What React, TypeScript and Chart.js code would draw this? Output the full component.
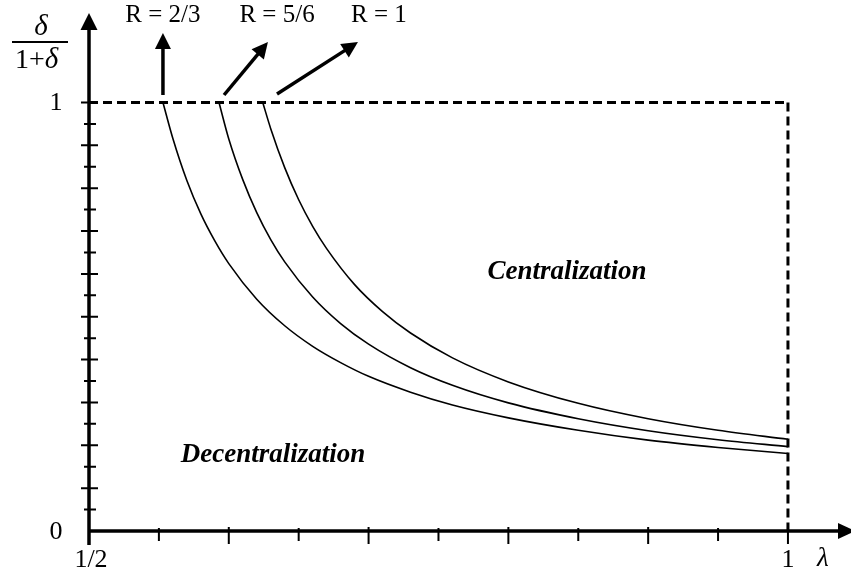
import React, { useEffect, useRef } from "react";
import { Chart, registerables } from "chart.js";

Chart.register(...registerables);

// ---- data ----
const lambdaR23 = [0.5529, 0.56, 0.57, 0.58, 0.59, 0.6, 0.62, 0.64, 0.66, 0.68, 0.7, 0.73, 0.76, 0.8, 0.85, 0.9, 0.95, 1.0];
const shareR23 = [1.0, 0.916, 0.818, 0.74, 0.677, 0.624, 0.541, 0.479, 0.431, 0.393, 0.361, 0.324, 0.294, 0.264, 0.235, 0.212, 0.195, 0.181];

const lambdaR56 = [0.593, 0.6, 0.61, 0.62, 0.63, 0.64, 0.66, 0.68, 0.7, 0.73, 0.76, 0.8, 0.85, 0.9, 0.95, 1.0];
const shareR56 = [1.0, 0.915, 0.82, 0.743, 0.68, 0.628, 0.546, 0.484, 0.436, 0.381, 0.34, 0.299, 0.262, 0.234, 0.213, 0.197];

const lambdaR1 = [0.6243, 0.63, 0.64, 0.65, 0.66, 0.67, 0.69, 0.71, 0.73, 0.76, 0.8, 0.85, 0.9, 0.95, 1.0];
const shareR1 = [1.0, 0.939, 0.848, 0.773, 0.711, 0.659, 0.575, 0.512, 0.462, 0.404, 0.348, 0.298, 0.262, 0.235, 0.214];

const xMinorTicks = [0.55, 0.65, 0.75, 0.85, 0.95];
const xMajorTicks = [0.6, 0.7, 0.8, 0.9, 1.0];
const yMinorTicks = [0.05, 0.15, 0.25, 0.35, 0.45, 0.55, 0.65, 0.75, 0.85, 0.95];
const yMajorTicks = [0.1, 0.2, 0.3, 0.4, 0.5, 0.6, 0.7, 0.8, 0.9, 1.0];

const xTickLabels = ["1/2", "1"];
const xTickLabelValues = [0.5, 1.0];
const yTickLabels = ["0", "1"];
const yTickLabelValues = [0, 1.0];

const curveLabels = ["R = 2/3", "R = 5/6", "R = 1"];
const curveLabelX = [0.5529, 0.6345, 0.7074];
const curveLabelY = 1.203;
const arrowFromX = [0.5529, 0.5966, 0.6345];
const arrowFromY = [1.0175, 1.0175, 1.0198];
const arrowToX = [0.5529, 0.628, 0.6924];
const arrowToY = [1.162, 1.141, 1.141];

const regionLabels = ["Centralization", "Decentralization"];
const regionLabelX = [0.8419, 0.6316];
const regionLabelY = [0.6044, 0.1774];

const X_MIN = 0.5;
const X_MAX = 1.0451;
const Y_MIN = 0;
const Y_MAX = 1.2112;

const SERIF = "'Liberation Serif', 'Times New Roman', serif";

function pts(xs: number[], ys: number[]) {
  return xs.map((x, i) => ({ x, y: ys[i] }));
}

function arrowHead(ctx: CanvasRenderingContext2D, x1: number, y1: number, x2: number, y2: number, len: number, half: number) {
  const a = Math.atan2(y2 - y1, x2 - x1);
  const bx = x2 - len * Math.cos(a);
  const by = y2 - len * Math.sin(a);
  ctx.beginPath();
  ctx.moveTo(x2, y2);
  ctx.lineTo(bx + half * Math.sin(a), by - half * Math.cos(a));
  ctx.lineTo(bx - half * Math.sin(a), by + half * Math.cos(a));
  ctx.closePath();
  ctx.fill();
}

function arrow(ctx: CanvasRenderingContext2D, x1: number, y1: number, x2: number, y2: number, w: number, len: number, half: number) {
  const a = Math.atan2(y2 - y1, x2 - x1);
  ctx.lineWidth = w;
  ctx.beginPath();
  ctx.moveTo(x1, y1);
  ctx.lineTo(x2 - (len - 2) * Math.cos(a), y2 - (len - 2) * Math.sin(a));
  ctx.stroke();
  arrowHead(ctx, x1, y1, x2, y2, len, half);
}

const decorPlugin = {
  id: "decor",
  beforeDatasetsDraw(chart: any) {
    const ctx: CanvasRenderingContext2D = chart.ctx;
    const xs = chart.scales.x;
    const ys = chart.scales.y;
    const px = (v: number) => xs.getPixelForValue(v);
    const py = (v: number) => ys.getPixelForValue(v);
    ctx.save();
    ctx.strokeStyle = "#000";
    ctx.fillStyle = "#000";
    ctx.lineCap = "butt";

    // dashed frame at y = 1 and x = 1
    ctx.setLineDash([9, 5]);
    ctx.lineWidth = 3;
    ctx.beginPath();
    ctx.moveTo(px(X_MIN), py(1));
    ctx.lineTo(px(1), py(1));
    ctx.moveTo(px(1), py(1));
    ctx.lineTo(px(1), py(Y_MIN));
    ctx.stroke();
    ctx.setLineDash([]);

    // x ticks
    ctx.lineWidth = 2;
    ctx.beginPath();
    xMinorTicks.forEach((v) => {
      ctx.moveTo(px(v), py(0) - 3);
      ctx.lineTo(px(v), py(0) + 10);
    });
    xMajorTicks.forEach((v) => {
      ctx.moveTo(px(v), py(0) - 4);
      ctx.lineTo(px(v), py(0) + 13);
    });
    ctx.stroke();

    // y ticks
    ctx.beginPath();
    yMinorTicks.forEach((v) => {
      ctx.moveTo(px(X_MIN) - 5, py(v));
      ctx.lineTo(px(X_MIN) + 7, py(v));
    });
    yMajorTicks.forEach((v) => {
      ctx.moveTo(px(X_MIN) - 8, py(v));
      ctx.lineTo(px(X_MIN) + 9, py(v));
    });
    ctx.stroke();

    // axes
    const ox = px(X_MIN);
    const oy = py(Y_MIN);
    arrow(ctx, ox, oy + 14, ox, py(Y_MAX) + 1, 3.5, 17, 8.5);
    arrow(ctx, ox - 1, oy, px(X_MAX) + 4, oy, 3.5, 17, 8);
    ctx.restore();
  },
  afterDatasetsDraw(chart: any) {
    const ctx: CanvasRenderingContext2D = chart.ctx;
    const xs = chart.scales.x;
    const ys = chart.scales.y;
    const px = (v: number) => xs.getPixelForValue(v);
    const py = (v: number) => ys.getPixelForValue(v);
    ctx.save();
    ctx.fillStyle = "#000";
    ctx.strokeStyle = "#000";
    ctx.textAlign = "center";
    ctx.textBaseline = "middle";

    // tick labels
    ctx.font = `26px ${SERIF}`;
    yTickLabels.forEach((t, i) => {
      ctx.fillText(t, px(X_MIN) - 33, py(yTickLabelValues[i]) + 1);
    });
    xTickLabels.forEach((t, i) => {
      ctx.fillText(t, px(xTickLabelValues[i]) + (i === 0 ? 2 : 0), py(0) + 29);
    });
    ctx.font = `italic 27px ${SERIF}`;
    ctx.fillText("\u03bb", px(1) + 35, py(0) + 28);

    // y-axis title: delta / (1 + delta)
    ctx.font = `italic 29px ${SERIF}`;
    ctx.fillText("\u03b4", 41, 27);
    ctx.lineWidth = 2;
    ctx.beginPath();
    ctx.moveTo(12, 42);
    ctx.lineTo(68, 42);
    ctx.stroke();
    ctx.font = `28px ${SERIF}`;
    ctx.textAlign = "left";
    ctx.fillText("1+", 15, 61);
    const w = ctx.measureText("1+").width;
    ctx.font = `italic 29px ${SERIF}`;
    ctx.fillText("\u03b4", 15 + w, 60);
    ctx.textAlign = "center";

    // curve labels and arrows
    ctx.font = `25px ${SERIF}`;
    curveLabels.forEach((t, i) => {
      ctx.fillText(t, px(curveLabelX[i]), py(curveLabelY));
      arrow(ctx, px(arrowFromX[i]), py(arrowFromY[i]), px(arrowToX[i]), py(arrowToY[i]), 3.5, 16, 8);
    });

    // region labels
    ctx.font = `italic bold 27px ${SERIF}`;
    regionLabels.forEach((t, i) => {
      ctx.fillText(t, px(regionLabelX[i]), py(regionLabelY[i]));
    });
    ctx.restore();
  },
};

export default function App() {
  const ref = useRef<HTMLCanvasElement | null>(null);
  useEffect(() => {
    if (!ref.current) return;
    const lineStyle = {
      borderColor: "#000",
      borderWidth: 1.6,
      pointRadius: 0,
      fill: false,
      cubicInterpolationMode: "monotone" as const,
    };
    const chart = new Chart(ref.current, {
      type: "line",
      data: {
        datasets: [
          { label: "R = 2/3", data: pts(lambdaR23, shareR23), ...lineStyle },
          { label: "R = 5/6", data: pts(lambdaR56, shareR56), ...lineStyle },
          { label: "R = 1", data: pts(lambdaR1, shareR1), ...lineStyle },
        ],
      },
      options: {
        animation: false,
        responsive: false,
        devicePixelRatio: 1,
        layout: { padding: { left: 89, right: 0, top: 12, bottom: 47 } },
        plugins: { legend: { display: false }, tooltip: { enabled: false } },
        scales: {
          x: { type: "linear", min: X_MIN, max: X_MAX, display: false },
          y: { type: "linear", min: Y_MIN, max: Y_MAX, display: false },
        },
      },
      plugins: [decorPlugin],
    });
    return () => chart.destroy();
  }, []);
  return (
    <div style={{ position: "fixed", left: 0, top: 0, width: 851, height: 578, background: "#fff" }}>
      <canvas ref={ref} width={851} height={578} style={{ display: "block" }} />
    </div>
  );
}
